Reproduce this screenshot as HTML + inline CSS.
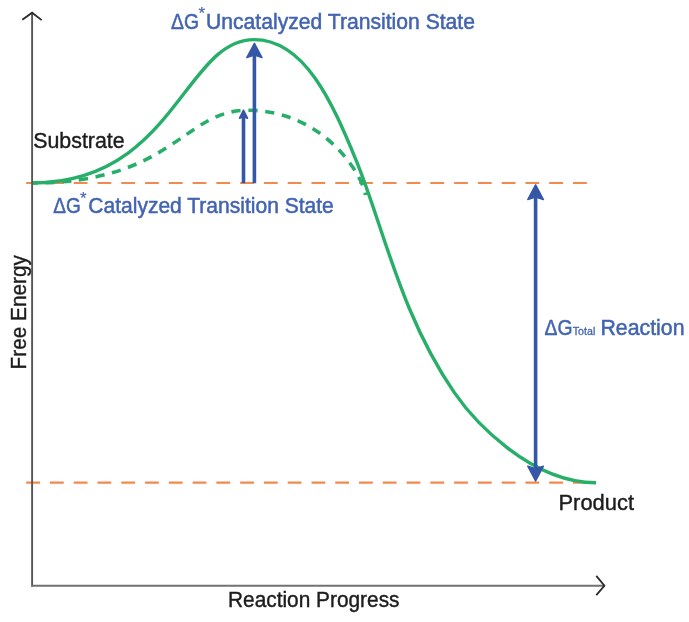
<!DOCTYPE html>
<html><head><meta charset="utf-8"><style>
html,body{margin:0;padding:0;background:#fff;}
body{width:689px;height:622px;overflow:hidden;}
svg{display:block;}
#wrap{width:689px;height:622px;will-change:transform;}
text{font-family:"Liberation Sans",sans-serif;}
</style></head><body><div id="wrap">
<svg width="689" height="622" viewBox="0 0 689 622">
<rect width="689" height="622" fill="#fff"/>
<!-- orange dashed levels -->
<line x1="26" y1="183.0" x2="587" y2="183.0" stroke="#F28A50" stroke-width="2.2" stroke-dasharray="13.8 9.975" stroke-dashoffset="-0.175"/>
<line x1="26" y1="482.7" x2="587" y2="482.7" stroke="#F28A50" stroke-width="2.2" stroke-dasharray="13.8 9.975" stroke-dashoffset="-0.175"/>
<!-- curves -->
<path d="M32.00 183.00 C172.51 183.00 183.49 110.25 247.45 110.25 C324.74 110.25 362.97 176.00 365.48 195.00" fill="none" stroke="#27AF69" stroke-width="3.6" stroke-dasharray="9.2 7.696" stroke-dashoffset="3.82"/>
<path d="M32.00 183.00 C174.30 183.00 184.18 39.61 254.04 39.61 C304.61 39.61 332.24 102.05 356.25 160.58 C383.36 226.66 400.46 314.51 454.54 392.89 C473.09 419.77 529.84 482.70 596.00 482.70" fill="none" stroke="#27AF69" stroke-width="3.4"/>
<!-- axes -->
<line x1="32.1" y1="12.5" x2="32.1" y2="586.8" stroke="#555555" stroke-width="1.9"/>
<line x1="31.150000000000002" y1="585.8" x2="605" y2="585.8" stroke="#727272" stroke-width="2.0"/>
<polyline points="22.3,19.8 32.1,12.7 41.7,20.1" fill="none" stroke="#2a2a2a" stroke-width="1.8" stroke-linejoin="miter"/>
<polyline points="596.3,575.9 604.4,585.8 596.3,595.2" fill="none" stroke="#2a2a2a" stroke-width="1.8" stroke-linejoin="miter"/>
<!-- blue arrows -->
<line x1="243.5" y1="183.2" x2="243.5" y2="116" stroke="#3557A8" stroke-width="3.6"/>
<path d="M243.50 110.20 L239.50 118.20 L243.50 116.70 L247.50 118.20 Z" fill="#3557A8" stroke="#3557A8" stroke-width="1.5" stroke-linejoin="round"/>
<line x1="254.4" y1="183.2" x2="254.4" y2="54" stroke="#3557A8" stroke-width="3.6"/>
<path d="M254.40 43.30 L246.80 57.50 L254.40 55.10 L262.00 57.50 Z" fill="#3557A8" stroke="#3557A8" stroke-width="1.5" stroke-linejoin="round"/>
<line x1="535.6" y1="192.8" x2="535.6" y2="473.0" stroke="#3557A8" stroke-width="3.6"/>
<path d="M535.60 184.80 L527.80 199.60 L535.60 197.00 L543.40 199.60 Z" fill="#3557A8" stroke="#3557A8" stroke-width="1.5" stroke-linejoin="round"/>
<path d="M535.60 481.00 L527.80 466.20 L535.60 468.80 L543.40 466.20 Z" fill="#3557A8" stroke="#3557A8" stroke-width="1.5" stroke-linejoin="round"/>
<!-- texts -->
<text x="171.0" y="28.6" font-size="21.5" fill="#4264B0" stroke="#4264B0" stroke-width="0.5" textLength="28.0" lengthAdjust="spacingAndGlyphs">ΔG</text>
<text x="198.4" y="19.3" font-size="17" fill="#4264B0" stroke="#4264B0" stroke-width="0.15">*</text>
<text x="206.0" y="28.6" font-size="21.5" fill="#4264B0" stroke="#4264B0" stroke-width="0.5" textLength="269.0" lengthAdjust="spacingAndGlyphs">Uncatalyzed Transition State</text>
<text x="53.3" y="213.0" font-size="21.5" fill="#4264B0" stroke="#4264B0" stroke-width="0.5" textLength="27.5" lengthAdjust="spacingAndGlyphs">ΔG</text>
<text x="80.0" y="204.2" font-size="17" fill="#4264B0" stroke="#4264B0" stroke-width="0.15">*</text>
<text x="88.3" y="213.0" font-size="21.5" fill="#4264B0" stroke="#4264B0" stroke-width="0.5" textLength="245.5" lengthAdjust="spacingAndGlyphs">Catalyzed Transition State</text>
<text x="544.5" y="334.6" font-size="21.5" fill="#4264B0" stroke="#4264B0" stroke-width="0.5" textLength="28.0" lengthAdjust="spacingAndGlyphs">ΔG</text>
<text x="572.8" y="334.6" font-size="11" fill="#4264B0" stroke="#4264B0" stroke-width="0.3" textLength="22.5" lengthAdjust="spacingAndGlyphs">Total</text>
<text x="600.5" y="334.6" font-size="21.5" fill="#4264B0" stroke="#4264B0" stroke-width="0.5" textLength="84.0" lengthAdjust="spacingAndGlyphs">Reaction</text>
<text x="33.2" y="147.6" font-size="21.5" fill="#1c1c1c" stroke="#1c1c1c" stroke-width="0.4" textLength="91.5" lengthAdjust="spacingAndGlyphs">Substrate</text>
<text x="558.5" y="510.0" font-size="21.5" fill="#1c1c1c" stroke="#1c1c1c" stroke-width="0.4" textLength="75.5" lengthAdjust="spacingAndGlyphs">Product</text>
<text x="228.0" y="606.8" font-size="21.5" fill="#1c1c1c" stroke="#1c1c1c" stroke-width="0.4" textLength="171.5" lengthAdjust="spacingAndGlyphs">Reaction Progress</text>
<text x="26.4" y="369.4" font-size="21.5" fill="#1c1c1c" stroke="#1c1c1c" stroke-width="0.4" textLength="114.3" lengthAdjust="spacingAndGlyphs" transform="rotate(-90 26.4 369.4)">Free Energy</text>
</svg></div>
</body></html>
